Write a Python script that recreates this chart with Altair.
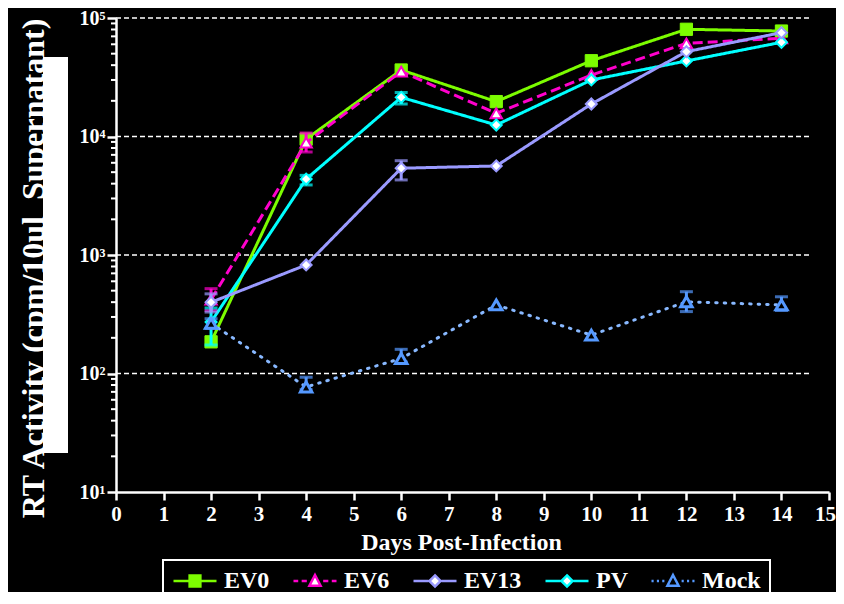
import altair as alt
import pandas as pd

# ---------------- data ----------------
days = [2, 4, 6, 8, 10, 12, 14]
series_names = ["EV0", "EV6", "EV13", "PV", "Mock"]

ev0 = [185, 9500, 36400, 19700, 43600, 80300, 77600]
ev6 = [420, 8870, 35300, 15700, 33000, 61100, 67500]
ev13 = [399, 824, 5400, 5640, 18800, 52000, 75200]
pv = [272, 4370, 21400, 12500, 30000, 43400, 62400]
mock = [265, 77, 134, 379, 211, 403, 379]

ev6_lo = [340, 7400, None, None, None, None, None]
ev6_hi = [520, 10700, None, None, None, None, None]
ev13_lo = [330, None, 4300, None, None, None, None]
ev13_hi = [470, None, 6250, None, None, None, None]
pv_lo = [174, 3900, 18800, None, None, None, None]
pv_hi = [357, 4700, 23500, None, None, None, None]
mock_lo = [240, 73, 125, None, None, 333, 340]
mock_hi = [290, 93, 160, None, None, 490, 444]

decades = [100, 1000, 10000, 100000]
minor_ticks = [m * 10 ** k for k in range(1, 5) for m in range(2, 10)]
x_ticks = list(range(0, 16))
y_ticks = [10, 100, 1000, 10000, 100000]

values = {"EV0": ev0, "EV6": ev6, "EV13": ev13, "PV": pv, "Mock": mock}
lows = {"EV0": [None] * 7, "EV6": ev6_lo, "EV13": ev13_lo, "PV": pv_lo, "Mock": mock_lo}
highs = {"EV0": [None] * 7, "EV6": ev6_hi, "EV13": ev13_hi, "PV": pv_hi, "Mock": mock_hi}

# ---------------- styles ----------------
FONT = "Liberation Serif"
GREEN = "#7CFC00"
MAGENTA = "#FF00CC"
LAV = "#9A9AFF"
CYAN = "#00FFFF"
BLUE = "#5599FF"
BLUE_LINE = "#88B8FF"

styles = {
    "EV0": dict(line=GREEN, dash=[1, 0], cap="butt", shape="square", fill=GREEN, stroke=GREEN, size=150, sw=1),
    "EV6": dict(line=MAGENTA, dash=[10, 5], cap="butt", shape="triangle-up", fill="white", stroke=MAGENTA, size=130, sw=2),
    "PV": dict(line=CYAN, dash=[1, 0], cap="butt", shape="diamond", fill="white", stroke=CYAN, size=120, sw=2),
    "EV13": dict(line=LAV, dash=[1, 0], cap="butt", shape="diamond", fill="white", stroke=LAV, size=120, sw=2),
    "Mock": dict(line=BLUE_LINE, dash=[1.5, 7], cap="round", shape="triangle-up", fill="black", stroke=BLUE, size=130, sw=3),
}
draw_order = ["EV0", "EV6", "PV", "EV13", "Mock"]

xscale = alt.Scale(domain=[0, 15], nice=False, zero=False)
yscale = alt.Scale(type="log", domain=[10, 100000], nice=False)

x_enc = alt.X(
    "day:Q", scale=xscale,
    axis=alt.Axis(values=x_ticks, title="Days Post-Infection", grid=False, format="d", labelFlush=False,
                  labelOffset={"condition": {"test": "datum.value == 15", "value": -4}, "value": 0},
                  labelFontSize=21, labelFont=FONT, labelFontWeight="bold", labelColor="white",
                  labelPadding=3, tickSize=8, tickWidth=2.5, tickColor="white",
                  domainColor="white", domainWidth=2.5,
                  titleFont=FONT, titleFontSize=24, titleFontWeight="bold", titleColor="white",
                  titlePadding=6, titleX=345, titleAlign="center"),
)
y_enc = alt.Y(
    "value:Q", scale=yscale,
    axis=alt.Axis(values=y_ticks, grid=False,
                  labelExpr="'10' + ['⁰','¹','²','³','⁴','⁵'][round(log(datum.value)/LN10)]",
                  labelFontSize=20, labelFont=FONT, labelFontWeight="bold", labelColor="white",
                  labelPadding=2, labelOffset=0, tickSize=9, tickWidth=2.5, tickColor="white",
                  domainColor="white", domainWidth=2.5,
                  title="RT Activity (cpm/10ul\u00a0 Supernatant)",
                  titleFont=FONT, titleFontSize=32, titleFontWeight="bold", titleColor="white",
                  titleX=-83, titleY=250, titleAngle=270, titleAlign="center", titleBaseline="middle"),
)

layers = []

# dashed grid lines at decades
grid_df = pd.DataFrame({"value": decades})
layers.append(
    alt.Chart(grid_df).mark_rule(color="white", strokeWidth=1.5, strokeDash=[5, 3]).encode(
        x=alt.X(datum=0, scale=xscale), x2=alt.X2(datum=14.6), y=alt.Y("value:Q", scale=yscale)
    )
)
# minor ticks on y axis
minor_df = pd.DataFrame({"value": minor_ticks})
layers.append(
    alt.Chart(minor_df).mark_rule(color="white", strokeWidth=2).encode(
        x=alt.value(-5), x2=alt.value(0), y=alt.Y("value:Q", scale=yscale)
    )
)

# series
for name in draw_order:
    st = styles[name]
    df = pd.DataFrame({"day": days, "value": values[name]})
    err = pd.DataFrame({"day": days, "lo": lows[name], "hi": highs[name]}).dropna()
    if len(err):
        layers.append(alt.Chart(err).mark_rule(color=st["stroke"], strokeWidth=3).encode(
            x=alt.X("day:Q", scale=xscale), y=alt.Y("lo:Q", scale=yscale), y2="hi:Q"))
        for col in ["lo", "hi"]:
            layers.append(alt.Chart(err).mark_tick(orient="horizontal", color=st["stroke"], size=13, thickness=3).encode(
                x=alt.X("day:Q", scale=xscale), y=alt.Y(f"{col}:Q", scale=yscale)))
    layers.append(alt.Chart(df).mark_line(color=st["line"], strokeWidth=3, strokeDash=st["dash"], strokeCap=st["cap"]).encode(
        x=x_enc, y=y_enc))
    layers.append(alt.Chart(df).mark_point(shape=st["shape"], fill=st["fill"], stroke=st["stroke"], strokeWidth=st["sw"],
                                           size=st["size"], filled=False, fillOpacity=1, opacity=1).encode(
        x=x_enc, y=y_enc))

# legend (invisible layer carrying legend scales)
legend_paths = [
    "M-1,0H-0.3M0.3,0H1M-0.25,-0.25H0.25V0.25H-0.25Z",
    "M-1,0H-0.78M-0.62,0H-0.38M0.38,0H0.62M0.78,0H1M0,-0.28L0.26,0.22H-0.26Z",
    "M-1,0H-0.3M0.3,0H1M0,-0.26L0.26,0L0,0.26L-0.26,0Z",
    "M-1,0H-0.3M0.3,0H1M0,-0.26L0.26,0L0,0.26L-0.26,0Z",
    "M-1,0H-0.9M-0.75,0H-0.65M-0.5,0H-0.4M0.4,0H0.5M0.65,0H0.75M0.9,0H1M0,-0.28L0.26,0.22H-0.26Z",
]
legend_fill = [GREEN, "white", "white", "white", "black"]
legend_stroke = [GREEN, MAGENTA, LAV, CYAN, BLUE]
leg = alt.Legend(title=None, orient="none", legendX=47, legendY=542, direction="horizontal",
                 symbolSize=1850, clipHeight=24, padding=9, strokeColor="white", fillColor="black",
                 labelFont=FONT, labelFontSize=24, labelFontWeight="bold", labelColor="white",
                 labelOffset=6, columnPadding=22, symbolStrokeWidth=2.5, symbolOpacity=1)
leg_df = pd.DataFrame({"series": series_names})
layers.append(
    alt.Chart(leg_df).mark_point(opacity=0, filled=True).encode(
        x=alt.value(0), y=alt.value(0),
        shape=alt.Shape("series:N", scale=alt.Scale(domain=series_names, range=legend_paths), legend=leg),
        fill=alt.Fill("series:N", scale=alt.Scale(domain=series_names, range=legend_fill), legend=leg),
        stroke=alt.Stroke("series:N", scale=alt.Scale(domain=series_names, range=legend_stroke), legend=leg),
    )
)

# white block over part of y title
layers.append(
    alt.Chart(pd.DataFrame({"a": [0]})).mark_rect(color="white").encode(
        x=alt.value(-73), x2=alt.value(-48), y=alt.value(39), y2=alt.value(435)
    )
)

chart = alt.layer(*layers).properties(
    width=713, height=474,
    autosize=alt.AutoSizeParams(type="none"),
    padding={"left": 108, "top": 10, "right": 7, "bottom": 100},
    background="black",
).configure_view(stroke=None).configure_legend(strokeWidth=2)

chart.save("out.html", embed_options={"renderer": "svg", "actions": False})
